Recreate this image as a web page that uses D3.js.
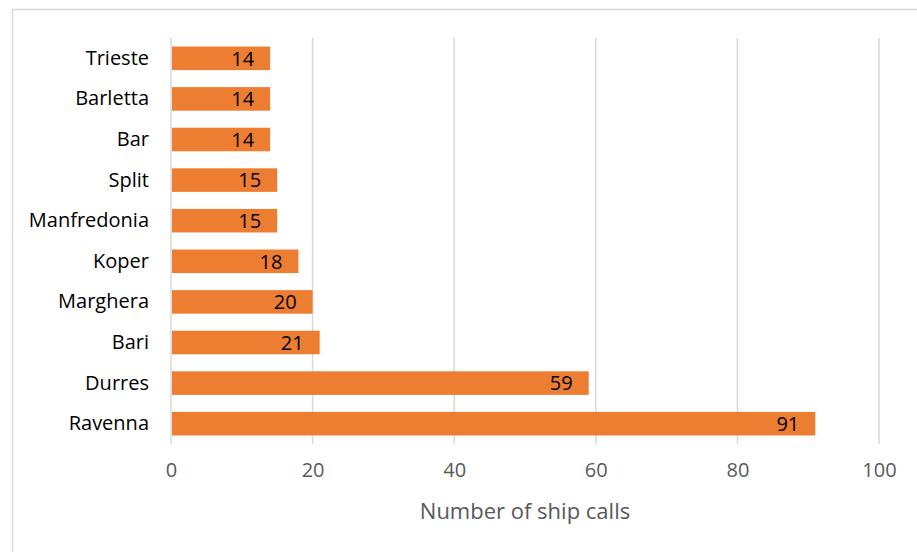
<!DOCTYPE html>
<html>
<head>
<meta charset="utf-8">
<script src="https://cdn.jsdelivr.net/npm/d3@7"></script>
<style>
  body { margin: 0; background: #fff; }
  svg { display: block; font-family: "Open Sans", sans-serif; }
</style>
</head>
<body>
<div id="vis"></div>
<script>
// datos (de arriba hacia abajo)
const PUERTOS = ["Trieste", "Barletta", "Bar", "Split", "Manfredonia", "Koper", "Marghera", "Bari", "Durres", "Ravenna"];
const LLAMADAS = [14, 14, 14, 15, 15, 18, 20, 21, 59, 91];
const TICKS_X = [0, 20, 40, 60, 80, 100];
const TITULO_X = "Number of ship calls";

const WIDTH = 917;
const HEIGHT = 552;
const FUENTE = "'Open Sans', sans-serif";

const SVG = d3.select("#vis").append("svg")
  .attr("width", WIDTH)
  .attr("height", HEIGHT);

const data = PUERTOS.map((p, i) => ({ puerto: p, valor: LLAMADAS[i] }));

// borde del area del grafico (se sale del recorte por la derecha y abajo)
SVG.append("rect")
  .attr("x", 12.5)
  .attr("y", 9.5)
  .attr("width", 940)
  .attr("height", 600)
  .attr("fill", "none")
  .attr("stroke", "#d9d9d9")
  .attr("stroke-width", 1.5);

const escalaX = d3.scaleLinear()
  .domain([0, 100])
  .range([171, 879]);

const escalaY = d3.scaleBand()
  .domain(PUERTOS)
  .range([38, 444])
  .paddingInner(0.42)
  .paddingOuter(0.21);

// lineas de grilla
SVG.append("g")
  .selectAll("line")
  .data(TICKS_X)
  .join("line")
  .attr("x1", d => escalaX(d))
  .attr("x2", d => escalaX(d))
  .attr("y1", 38)
  .attr("y2", 444)
  .attr("stroke", "#d9d9d9")
  .attr("stroke-width", 1.5);

// eje x con d3.axisBottom, sin linea ni ticks
const ejeX = SVG.append("g")
  .attr("transform", "translate(0, 444)")
  .call(d3.axisBottom(escalaX).tickValues(TICKS_X).tickSize(0).tickPadding(19));
ejeX.select(".domain").remove();
ejeX.selectAll("text")
  .attr("fill", "#595959")
  .attr("font-size", 20)
  .attr("font-family", FUENTE);

// eje y con nombres de puertos
const ejeY = SVG.append("g")
  .attr("transform", "translate(171, 0)")
  .call(d3.axisLeft(escalaY).tickSize(0).tickPadding(22));
ejeY.select(".domain").remove();
ejeY.selectAll("text")
  .attr("fill", "#000")
  .attr("font-size", 20)
  .attr("font-family", FUENTE);

// barras
SVG.append("g")
  .selectAll("rect")
  .data(data)
  .join("rect")
  .attr("x", escalaX(0) + 1)
  .attr("y", d => escalaY(d.puerto))
  .attr("width", d => escalaX(d.valor) - escalaX(0) - 1)
  .attr("height", escalaY.bandwidth())
  .attr("fill", "#ed7d31");

// etiquetas de valor dentro de la barra
SVG.append("g")
  .selectAll("text")
  .data(data)
  .join("text")
  .attr("x", d => escalaX(d.valor) - 16)
  .attr("y", d => escalaY(d.puerto) + escalaY.bandwidth() / 2)
  .attr("dy", "0.36em")
  .attr("text-anchor", "end")
  .attr("font-size", 20)
  .attr("fill", "#000")
  .text(d => d.valor);

// titulo eje x
SVG.append("text")
  .attr("x", (escalaX(0) + escalaX(100)) / 2)
  .attr("y", 519)
  .attr("text-anchor", "middle")
  .attr("font-size", 22)
  .attr("fill", "#595959")
  .text(TITULO_X);
</script>
</body>
</html>
